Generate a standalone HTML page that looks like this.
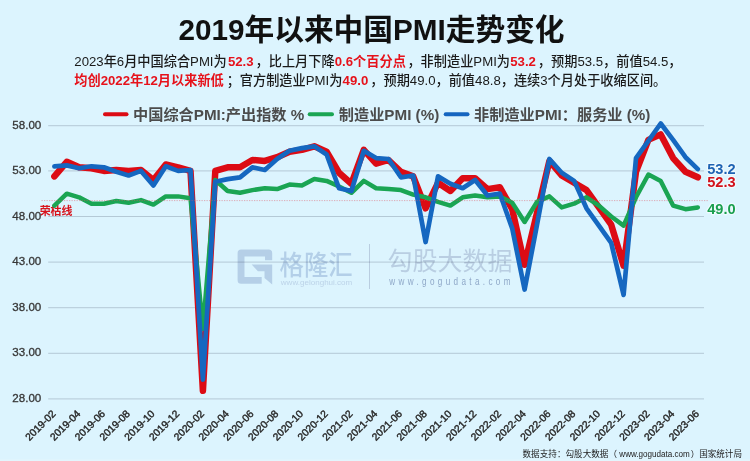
<!DOCTYPE html>
<html lang="zh"><head><meta charset="utf-8"><title>2019年以来中国PMI走势变化</title>
<style>html,body{margin:0;padding:0;background:#dcf4fe;font-family:"Liberation Sans",sans-serif;}body{width:750px;height:461px;overflow:hidden}svg{display:block}.cj{font-family:"Liberation Sans","Noto Sans CJK SC",sans-serif}</style>
</head><body><svg width="750" height="461" viewBox="0 0 750 461" font-family="Liberation Sans, sans-serif" role="img" aria-label="2019年以来中国PMI走势变化"><title>2019年以来中国PMI走势变化</title><desc>2023年6月中国综合PMI为52.3，比上月下降0.6个百分点，非制造业PMI为53.2，预期53.5，前值54.5，均创2022年12月以来新低；官方制造业PMI为49.0，预期49.0，前值48.8，连续3个月处于收缩区间。图例：中国综合PMI:产出指数 %、制造业PMI (%)、非制造业PMI：服务业 (%)。荣枯线。数据支持：勾股大数据（www.gogudata.com）国家统计局</desc><g><path d="M272.2 260.3 V253.2 Q272.2 249.6 268.6 249.6 H241.2 Q237.6 249.6 237.6 253.2 V280.2 Q237.6 283.7 241.2 283.7 H261.7 V277 H244.5 V256.5 H265 V260.3 Z M251.7 264.6 H272.2 V284.6 L264.5 278 V271.3 H257.9 Z" fill="#b5cfe7"/><text class="cj" transform="translate(279.6,274.9) scale(1,1.1)" font-size="24.4" font-weight="500" fill="#b3cfe8">格隆汇</text><text class="cj" x="280.8" y="284.6" font-size="6.6" font-weight="500" fill="#bcd3e8" textLength="71.5" lengthAdjust="spacingAndGlyphs">www.gelonghui.com</text><line x1="369.5" x2="369.5" y1="244" y2="289" stroke="#b9cde0" stroke-width="1"/><text class="cj" x="387.55" y="270.3" font-size="25" fill="#b9cee2">勾股大数据</text><text class="cj" transform="translate(389.2,285) scale(1,1.25)" font-size="8.16" font-weight="500" fill="#8fa8c8" textLength="121.3" lengthAdjust="spacing">www.gogudata.com</text></g><g style="mix-blend-mode:multiply" stroke="#cfd0d5" stroke-width="0.95"><line x1="48.2" x2="704" y1="125.7" y2="125.7"/><line x1="48.2" x2="704" y1="170.9" y2="170.9"/><line x1="48.2" x2="704" y1="216.5" y2="216.5"/><line x1="48.2" x2="704" y1="262.1" y2="262.1"/><line x1="48.2" x2="704" y1="307.7" y2="307.7"/><line x1="48.2" x2="704" y1="353.3" y2="353.3"/><line x1="48.2" x2="704" y1="398.9" y2="398.9"/></g><text class="cj" x="39.7" y="215" font-size="10.9" font-weight="bold" fill="#d8121b">荣枯线</text><polyline points="54.4,176.4 66.8,161.8 79.1,167.3 91.5,168.2 103.9,170.9 116.3,170.0 128.6,170.9 141.0,170.0 153.4,180.0 165.8,164.5 178.1,167.3 190.5,170.9 202.9,390.7 215.3,170.9 227.6,167.3 240.0,167.3 252.4,160.0 264.8,160.9 277.1,157.2 289.5,151.7 301.9,149.9 314.3,146.3 326.6,151.7 339.0,172.7 351.4,183.7 363.8,149.9 376.1,163.6 388.5,160.0 400.9,171.8 413.2,176.4 425.6,208.3 438.0,182.8 450.4,191.0 462.7,178.2 475.1,178.2 487.5,189.1 499.9,187.3 512.2,209.2 524.6,264.8 537.0,212.9 549.4,160.9 561.7,175.5 574.1,182.8 586.5,190.1 598.9,207.4 611.2,224.7 623.6,265.7 636.0,171.8 648.4,139.9 660.7,134.4 673.1,158.1 685.5,171.8 697.8,177.3" fill="none" stroke="#dc0b14" stroke-width="6.5" stroke-linejoin="round" stroke-linecap="round"/><polyline points="54.4,205.6 66.8,193.7 79.1,197.3 91.5,203.7 103.9,203.7 116.3,201.0 128.6,202.8 141.0,200.1 153.4,204.6 165.8,196.4 178.1,196.4 190.5,198.3 202.9,328.7 215.3,180.0 227.6,191.0 240.0,192.8 252.4,190.1 264.8,188.2 277.1,189.1 289.5,184.6 301.9,185.5 314.3,179.1 326.6,180.9 339.0,186.4 351.4,192.8 363.8,180.9 376.1,188.2 388.5,189.1 400.9,190.1 413.2,194.6 425.6,197.3 438.0,201.9 450.4,205.6 462.7,197.3 475.1,195.5 487.5,197.3 499.9,196.4 512.2,202.8 524.6,222.0 537.0,201.9 549.4,196.4 561.7,207.4 574.1,203.7 586.5,197.3 598.9,205.6 611.2,216.5 623.6,225.6 636.0,197.3 648.4,174.5 660.7,180.9 673.1,205.6 685.5,209.2 697.8,207.4" fill="none" stroke="#1aa553" stroke-width="4.5" stroke-linejoin="round" stroke-linecap="round"/><polyline points="54.4,166.3 66.8,165.4 79.1,168.2 91.5,166.3 103.9,167.3 116.3,171.8 128.6,175.5 141.0,170.9 153.4,185.5 165.8,166.3 178.1,170.9 190.5,170.0 202.9,379.7 215.3,181.8 227.6,179.1 240.0,177.3 252.4,167.3 264.8,170.0 277.1,159.0 289.5,150.8 301.9,148.1 314.3,146.3 326.6,154.5 339.0,188.2 351.4,191.0 363.8,150.8 376.1,158.1 388.5,159.0 400.9,177.3 413.2,175.5 425.6,242.0 438.0,176.4 450.4,183.7 462.7,188.2 475.1,180.0 487.5,195.5 499.9,193.7 512.2,228.4 524.6,289.5 537.0,224.7 549.4,159.0 561.7,172.7 574.1,180.9 586.5,208.3 598.9,225.6 611.2,242.9 623.6,294.9 636.0,158.1 648.4,140.8 660.7,123.5 673.1,139.9 685.5,157.2 697.8,169.1" fill="none" stroke="#1567c0" stroke-width="4.7" stroke-linejoin="round" stroke-linecap="round"/><line x1="41.5" x2="708" y1="200.6" y2="200.6" stroke="#e0525f" stroke-opacity="0.5" stroke-width="0.9" stroke-dasharray="1.25 1.25"/><text class="cj" x="178.5" y="39.7" font-size="29.7" font-weight="bold" fill="#111">2019年以来中国PMI走势变化</text><text class="cj" x="74.3" y="66" font-size="13.2" font-weight="500" fill="#1a1a1a">2023年6月中国综合PMI为</text><text class="cj" x="227.91" y="66" font-size="13.2" font-weight="bold" fill="#e6121b">52.3</text><text class="cj" x="255.56" y="66" font-size="13.2" font-weight="500" fill="#1a1a1a">，比上月下降</text><text class="cj" x="334.76" y="66" font-size="13.2" font-weight="bold" fill="#e6121b">0.6个百分点</text><text class="cj" x="407.43" y="66" font-size="13.2" font-weight="500" fill="#1a1a1a">，非制造业PMI为</text><text class="cj" x="510.22" y="66" font-size="13.2" font-weight="bold" fill="#e6121b">53.2</text><text class="cj" x="537.87" y="66" font-size="13.2" font-weight="500" fill="#1a1a1a">，预期53.5，前值54.5，</text><text class="cj" x="74.3" y="85.4" font-size="13.2" font-weight="bold" fill="#e6121b">均创2022年12月以来新低</text><text class="cj" x="226.63" y="85.4" font-size="13.2" font-weight="500" fill="#1a1a1a">；官方制造业PMI为</text><text class="cj" x="342.62" y="85.4" font-size="13.2" font-weight="bold" fill="#e6121b">49.0</text><text class="cj" x="370.27" y="85.4" font-size="13.2" font-weight="500" fill="#1a1a1a">，预期49.0，前值48.8，连续3个月处于收缩区间。</text><line x1="105" x2="126.5" y1="114.3" y2="114.3" stroke="#dc0b14" stroke-width="4" stroke-linecap="round"/><text class="cj" x="133" y="119.6" font-size="15.2" font-weight="bold" fill="#4c4c4c">中国综合PMI:产出指数 %</text><line x1="309.7" x2="332" y1="114.3" y2="114.3" stroke="#1aa553" stroke-width="4" stroke-linecap="round"/><text class="cj" x="338.8" y="119.6" font-size="15.2" font-weight="bold" fill="#4c4c4c">制造业PMI (%)</text><line x1="445.7" x2="467.5" y1="114.3" y2="114.3" stroke="#1565c0" stroke-width="4" stroke-linecap="round"/><text class="cj" x="474" y="119.6" font-size="15.2" font-weight="bold" fill="#4c4c4c">非制造业PMI：服务业 (%)</text><g style="filter:grayscale(1)" font-size="11.6" fill="#33383c" stroke="#33383c" stroke-width="0.3" text-anchor="end"><text x="41.3" y="129.0">58.00</text><text x="41.3" y="174.0">53.00</text><text x="41.3" y="219.6">48.00</text><text x="41.3" y="265.2">43.00</text><text x="41.3" y="310.8">38.00</text><text x="41.3" y="356.4">33.00</text><text x="41.3" y="402.0">28.00</text></g><text class="cj" x="707.2" y="173.55" font-size="14.6" font-weight="bold" fill="none" stroke="#fff" stroke-opacity="0.55" stroke-width="2.3" stroke-linejoin="round">53.2</text><text class="cj" x="707.2" y="173.55" font-size="14.6" font-weight="bold" fill="#1e63b3">53.2</text><text class="cj" x="707.2" y="187.25" font-size="14.6" font-weight="bold" fill="none" stroke="#fff" stroke-opacity="0.55" stroke-width="2.3" stroke-linejoin="round">52.3</text><text class="cj" x="707.2" y="187.25" font-size="14.6" font-weight="bold" fill="#d2121c">52.3</text><text class="cj" x="707.2" y="214.25" font-size="14.6" font-weight="bold" fill="none" stroke="#fff" stroke-opacity="0.55" stroke-width="2.3" stroke-linejoin="round">49.0</text><text class="cj" x="707.2" y="214.25" font-size="14.6" font-weight="bold" fill="#1a9f4e">49.0</text><g style="filter:grayscale(1)" font-size="10.3" fill="#26292c" stroke="#26292c" stroke-width="0.42" text-anchor="end"><text transform="translate(56.3,414.4) rotate(-45)">2019-02</text><text transform="translate(81.0,414.4) rotate(-45)">2019-04</text><text transform="translate(105.8,414.4) rotate(-45)">2019-06</text><text transform="translate(130.5,414.4) rotate(-45)">2019-08</text><text transform="translate(155.3,414.4) rotate(-45)">2019-10</text><text transform="translate(180.0,414.4) rotate(-45)">2019-12</text><text transform="translate(204.8,414.4) rotate(-45)">2020-02</text><text transform="translate(229.5,414.4) rotate(-45)">2020-04</text><text transform="translate(254.3,414.4) rotate(-45)">2020-06</text><text transform="translate(279.0,414.4) rotate(-45)">2020-08</text><text transform="translate(303.8,414.4) rotate(-45)">2020-10</text><text transform="translate(328.5,414.4) rotate(-45)">2020-12</text><text transform="translate(353.3,414.4) rotate(-45)">2021-02</text><text transform="translate(378.0,414.4) rotate(-45)">2021-04</text><text transform="translate(402.8,414.4) rotate(-45)">2021-06</text><text transform="translate(427.5,414.4) rotate(-45)">2021-08</text><text transform="translate(452.3,414.4) rotate(-45)">2021-10</text><text transform="translate(477.0,414.4) rotate(-45)">2021-12</text><text transform="translate(501.8,414.4) rotate(-45)">2022-02</text><text transform="translate(526.5,414.4) rotate(-45)">2022-04</text><text transform="translate(551.3,414.4) rotate(-45)">2022-06</text><text transform="translate(576.0,414.4) rotate(-45)">2022-08</text><text transform="translate(600.8,414.4) rotate(-45)">2022-10</text><text transform="translate(625.5,414.4) rotate(-45)">2022-12</text><text transform="translate(650.3,414.4) rotate(-45)">2023-02</text><text transform="translate(675.0,414.4) rotate(-45)">2023-04</text><text transform="translate(699.7,414.4) rotate(-45)">2023-06</text></g><rect x="0" y="459.4" width="750" height="1.6" fill="#e6f5fc" opacity="0.7"/><text class="cj" x="522.5" y="457.2" font-size="8.6" fill="#222">数据支持：勾股大数据（</text><text class="cj" x="619.3" y="457.2" font-size="8.6" fill="#222" textLength="70.5" lengthAdjust="spacingAndGlyphs">www.gogudata.com</text><text class="cj" x="690.7" y="457.2" font-size="8.55" fill="#222">）国家统计局</text></svg></body></html>
